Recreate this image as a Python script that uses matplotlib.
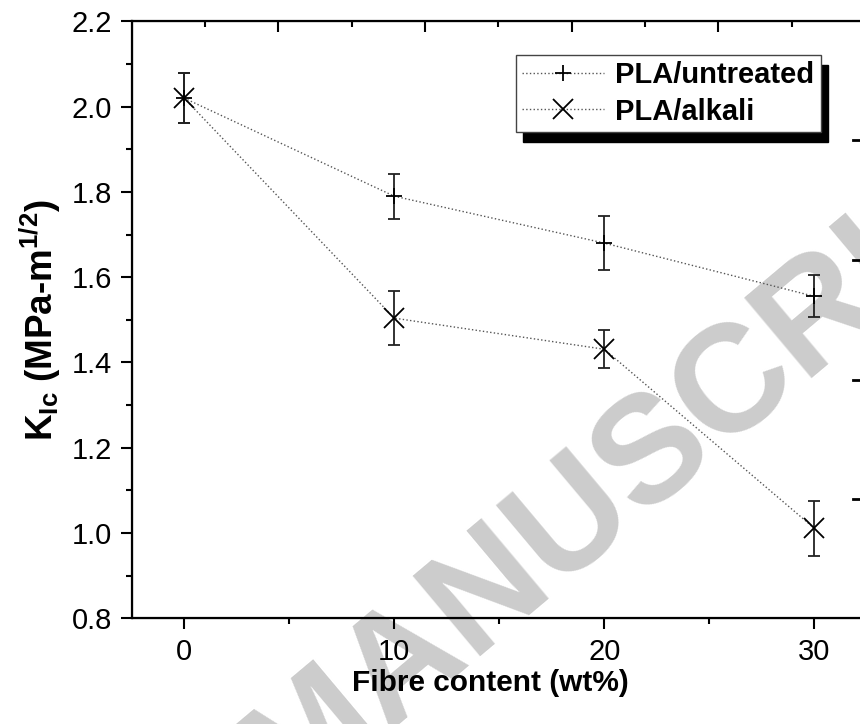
import numpy as np
import matplotlib
matplotlib.use('Agg')
import matplotlib.pyplot as plt
from matplotlib.lines import Line2D

plt.rcParams['font.family'] = ['Liberation Sans', 'DejaVu Sans']
plt.rcParams['mathtext.fontset'] = 'custom'
plt.rcParams['mathtext.rm'] = 'Liberation Sans:bold'
plt.rcParams['mathtext.bf'] = 'Liberation Sans:bold'
plt.rcParams['mathtext.it'] = 'Liberation Sans:bold'

# datos
fibre = [0, 10, 20, 30]
kic_untreated = [2.02, 1.79, 1.68, 1.555]
err_untreated = [0.058, 0.053, 0.064, 0.049]
kic_alkali = [2.02, 1.504, 1.431, 1.011]
err_alkali = [0.058, 0.064, 0.045, 0.065]

# ticks do eixo de cima (escala propria, sem rotulos)
top_major = [4.48, 11.47, 18.45, 25.43]
top_minor = [1.0, 7.97, 14.96, 21.94, 28.92]

fig = plt.figure(figsize=(8.6, 7.24), dpi=100)
ax = fig.add_axes([0.153, 0.146, 0.855, 0.8245])

# marca d'agua (por baixo de tudo)
fig.text(0.336, -0.116, 'MANUSCRIPT', fontsize=110, fontweight='bold', color='#cccccc',
         rotation=40, rotation_mode='anchor', ha='left', va='baseline', zorder=-1)

ax.set_facecolor('none')
estilo = dict(color='#555555', ls=':', lw=1.0, mec='k', mew=1.3)
ax.errorbar(fibre, kic_untreated, yerr=err_untreated, marker='+', ms=11,
            ecolor='#222222', elinewidth=1.3, capsize=4.5, capthick=1.3, zorder=3, **estilo)
ax.errorbar(fibre, kic_alkali, yerr=err_alkali, marker='x', ms=14,
            ecolor='#222222', elinewidth=1.3, capsize=4.5, capthick=1.3, zorder=3, **estilo)

ax.set_xlim(-2.5, 32.5)
ax.set_ylim(0.8, 2.2)
ax.set_xticks([0, 10, 20, 30])
ax.set_xticks([5, 15, 25], minor=True)
ax.set_yticks(np.arange(0.8, 2.21, 0.2))
ax.set_yticks(np.arange(0.9, 2.2, 0.2), minor=True)
ax.set_yticklabels(['%.1f' % v for v in np.arange(0.8, 2.21, 0.2)])
ax.tick_params(axis='both', which='major', direction='out', length=8, width=1.5, labelsize=21, pad=6)
ax.tick_params(axis='both', which='minor', direction='out', length=4, width=1.5)
ax.tick_params(axis='y', right=False)
ax.tick_params(axis='x', top=False)
for s in ax.spines.values():
    s.set_linewidth(1.6)

ax_top = ax.twiny()
ax_top.set_xlim(ax.get_xlim())
ax_top.set_xticks(top_major)
ax_top.set_xticks(top_minor, minor=True)
ax_top.tick_params(axis='x', which='major', direction='in', length=8, width=1.5, labeltop=False)
ax_top.tick_params(axis='x', which='minor', direction='in', length=4, width=1.5)

ax.set_xlabel('Fibre content (wt%)', fontsize=21.5, fontweight='bold', labelpad=4)
ax.xaxis.set_label_coords(0.488, -0.085)
ax.set_ylabel(r'K$_{\mathbf{Ic}}$ (MPa-m$^{\mathbf{1/2}}$)', fontsize=26.5, fontweight='bold', labelpad=6)

handles = [Line2D([], [], marker='+', ms=11, **estilo),
           Line2D([], [], marker='x', ms=14, **estilo)]
leg = ax.legend(handles, ['PLA/untreated', 'PLA/alkali'], loc='upper right',
                bbox_to_anchor=(821 / 860, 1 - 55 / 724),
                bbox_transform=fig.transFigure, fancybox=False, edgecolor='#444444',
                prop={'weight': 'bold', 'size': 21}, handlelength=2.8, handletextpad=0.4,
                borderpad=0.22, labelspacing=0.28, borderaxespad=0,
                shadow={'ox': 5, 'oy': -7, 'color': 'k', 'alpha': 1})
leg.get_frame().set_linewidth(1.0)

# tracos do painel vizinho, na borda direita
for yp in [140, 260, 380, 499]:
    fig.add_artist(Line2D([853 / 860, 1.0], [1 - yp / 724] * 2, color='k', lw=2))

fig.savefig('out.png', dpi=100)
